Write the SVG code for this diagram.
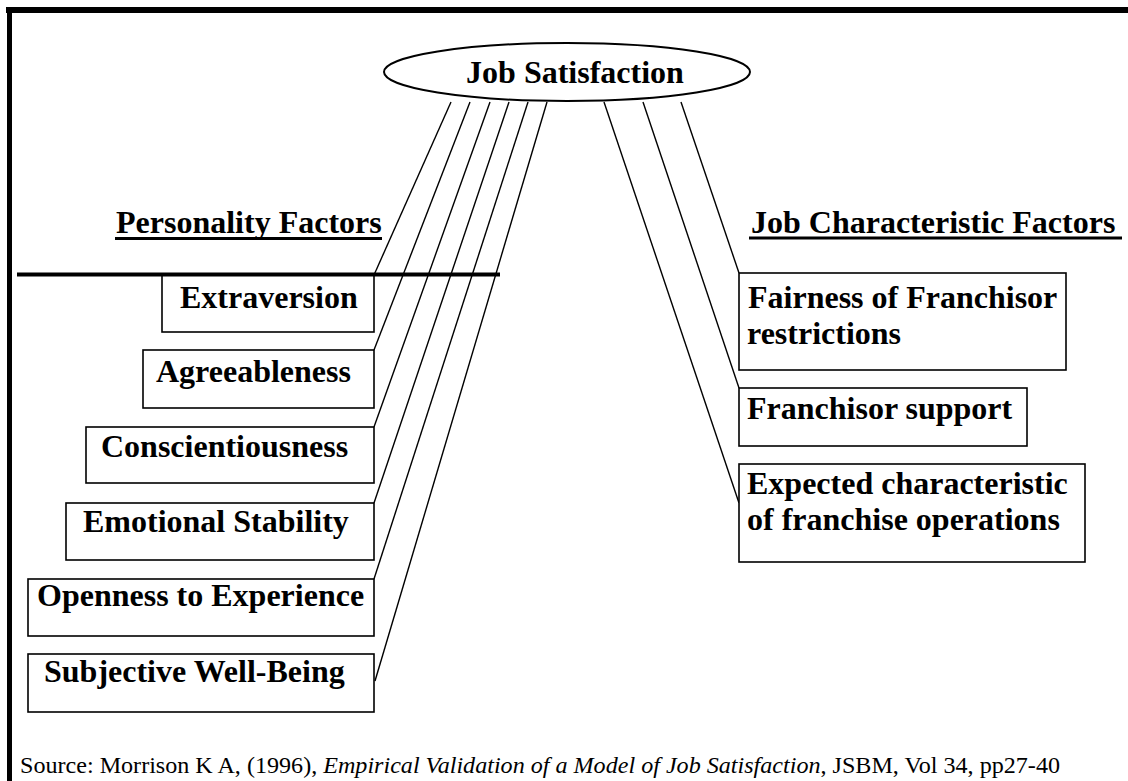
<svg xmlns="http://www.w3.org/2000/svg" width="1128" height="781" viewBox="0 0 1128 781">
  <style>
    .box { fill: #ffffff; stroke: #000000; stroke-width: 1.6; }
    .lbl { font-family: "Liberation Serif", "Times New Roman", serif; font-weight: bold; font-size: 32px; fill: #000000; }
    .link { stroke: #000000; stroke-width: 1.4; fill: none; }
    .rule { stroke: #000000; fill: none; }
    .src { font-family: "Liberation Serif", "Times New Roman", serif; font-size: 24px; fill: #000000; }
  </style>
  <rect width="1128" height="781" fill="#ffffff"/>

  <!-- frame -->
  <g id="frame">
    <rect x="6" y="7" width="1122" height="6" fill="#000000"/>
    <rect x="7" y="7" width="5" height="774" fill="#000000"/>
  </g>

  <!-- connectors -->
  <g id="connectors">
    <line class="link" x1="451" y1="102" x2="374" y2="275"/>
    <line class="link" x1="470" y1="102" x2="374" y2="350"/>
    <line class="link" x1="490" y1="102" x2="374" y2="427"/>
    <line class="link" x1="509" y1="102" x2="374" y2="503"/>
    <line class="link" x1="528" y1="102" x2="374" y2="579"/>
    <line class="link" x1="547" y1="102" x2="375" y2="681"/>
    <line class="link" x1="604" y1="102" x2="739" y2="503"/>
    <line class="link" x1="643" y1="102" x2="739" y2="388"/>
    <line class="link" x1="681" y1="102" x2="739" y2="273"/>
  </g>

  <g id="job-satisfaction">
    <ellipse cx="567" cy="72" rx="183" ry="29" fill="#ffffff" stroke="#000000" stroke-width="2"/>
    <text class="lbl" x="575" y="83" text-anchor="middle">Job Satisfaction</text>
  </g>

  <g id="personality-heading">
    <text class="lbl" x="116" y="233">Personality Factors</text>
    <line class="rule" x1="115" y1="238.5" x2="382" y2="238.5" stroke-width="3"/>
  </g>

  <g id="job-characteristic-heading">
    <text class="lbl" x="751" y="233">Job Characteristic Factors</text>
    <line class="rule" x1="749" y1="238" x2="1122" y2="238" stroke-width="3"/>
  </g>

  <g id="extraversion">
    <rect class="box" x="162" y="275" width="212" height="57"/>
    <text class="lbl" x="180" y="308">Extraversion</text>
  </g>
  <g id="agreeableness">
    <rect class="box" x="143" y="350" width="231" height="58"/>
    <text class="lbl" x="156" y="382">Agreeableness</text>
  </g>
  <g id="conscientiousness">
    <rect class="box" x="86" y="427" width="288" height="56"/>
    <text class="lbl" x="101" y="457">Conscientiousness</text>
  </g>
  <g id="emotional-stability">
    <rect class="box" x="66" y="503" width="308" height="57"/>
    <text class="lbl" x="83" y="532">Emotional Stability</text>
  </g>
  <g id="openness">
    <rect class="box" x="28" y="579" width="346" height="57"/>
    <text class="lbl" x="37" y="606">Openness to Experience</text>
  </g>
  <g id="subjective-well-being">
    <rect class="box" x="28" y="654" width="346" height="58"/>
    <text class="lbl" x="44" y="682">Subjective Well-Being</text>
  </g>

  <!-- divider under the personality heading -->
  <g id="divider">
    <line class="rule" x1="17" y1="274.5" x2="500" y2="274.5" stroke-width="4"/>
  </g>

  <g id="fairness">
    <rect class="box" x="739" y="273" width="327" height="97"/>
    <text class="lbl" x="748" y="308">Fairness of Franchisor</text>
    <text class="lbl" x="747" y="344">restrictions</text>
  </g>
  <g id="franchisor-support">
    <rect class="box" x="739" y="388" width="288" height="58"/>
    <text class="lbl" x="747" y="419">Franchisor support</text>
  </g>
  <g id="expected-characteristic">
    <rect class="box" x="739" y="464" width="346" height="98"/>
    <text class="lbl" x="747" y="494">Expected characteristic</text>
    <text class="lbl" x="747" y="530">of franchise operations</text>
  </g>

  <g id="source">
    <text class="src" x="20" y="773" textLength="1040" lengthAdjust="spacingAndGlyphs">Source: Morrison K A, (1996), <tspan font-style="italic">Empirical Validation of a Model of Job Satisfaction</tspan>, JSBM, Vol 34, pp27-40</text>
  </g>
</svg>
